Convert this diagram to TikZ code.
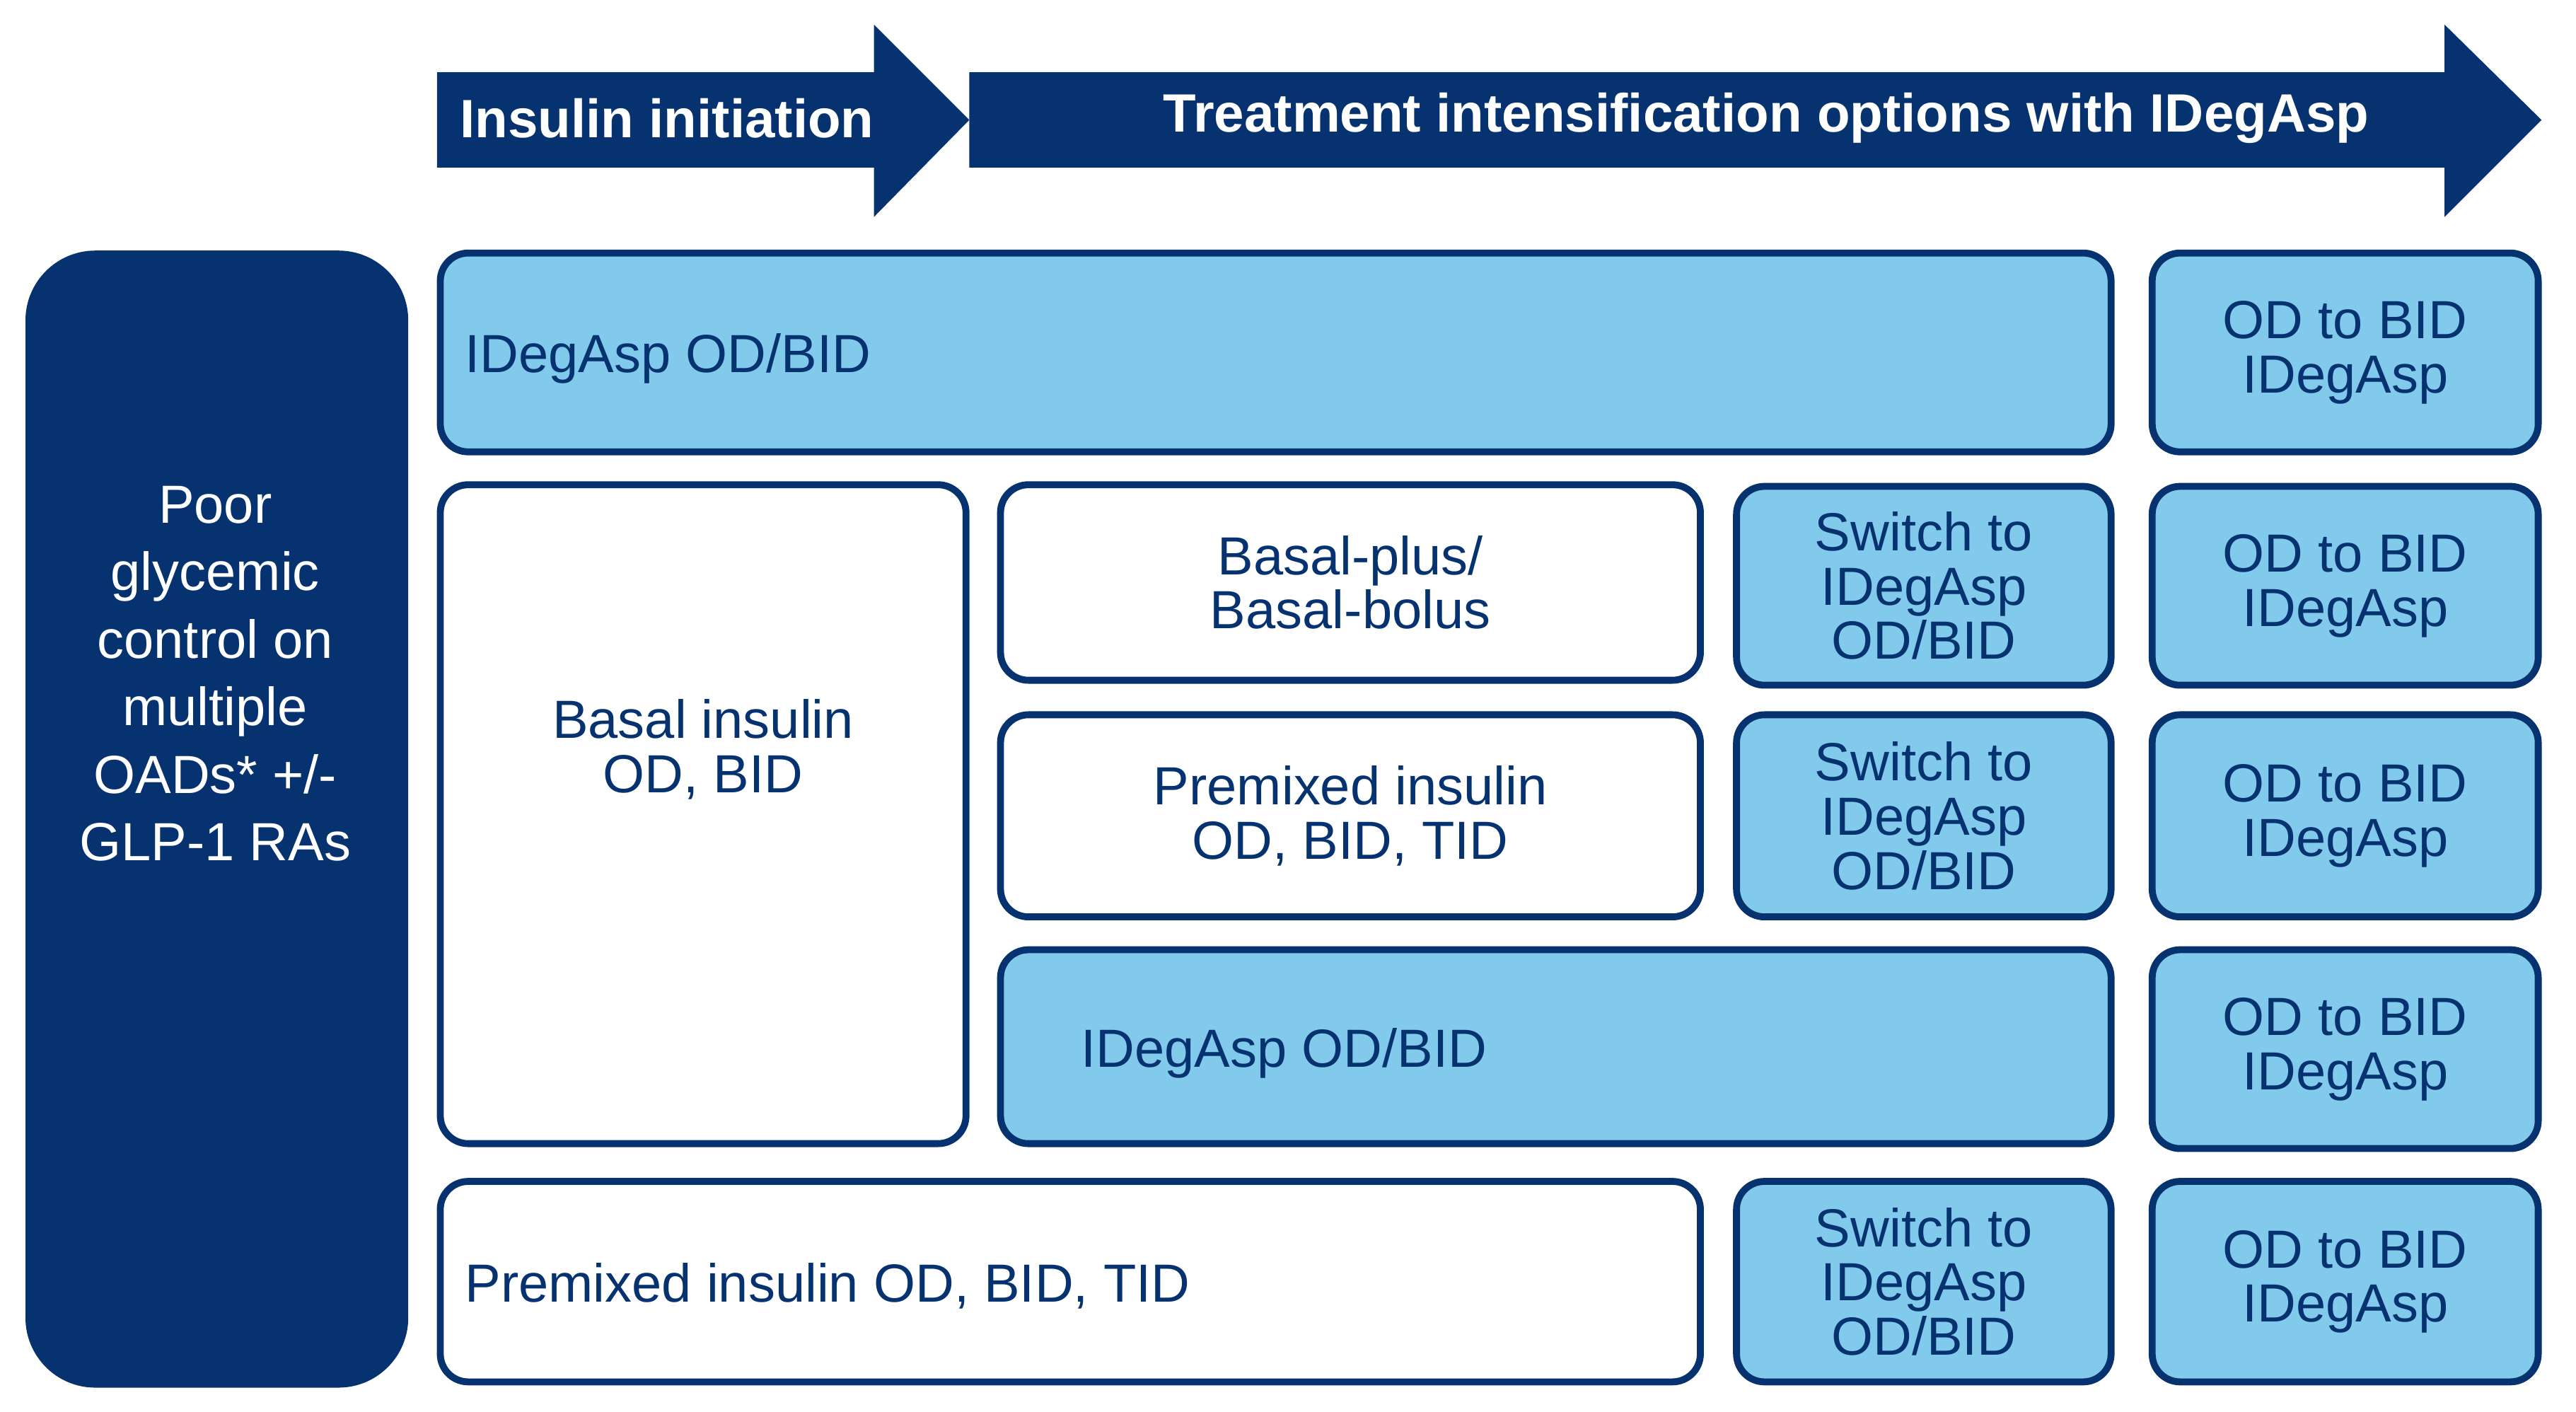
\documentclass[tikz,border=0pt]{standalone}
\usepackage{fontspec}
\setmainfont{Liberation Sans}
\usetikzlibrary{positioning}
\definecolor{navy}{RGB}{6,51,112}
\definecolor{skyblue}{RGB}{130,202,235}

\begin{document}
\begin{tikzpicture}[
    x=0.02cm, y=-0.02cm,
    wh/.style 2 args={minimum width=#1*0.02cm, minimum height=#2*0.02cm},
    cellbox/.style={rectangle, draw=navy, line width=2.4pt, rounded corners=0.34cm, inner sep=0pt, text=navy, align=center, font=\fontsize{18.6}{18.8}\selectfont},
    whitebox/.style={cellbox, fill=white},
    bluebox/.style={cellbox, fill=skyblue},
    lefttext/.style={align=flush left, text height=18pt, text depth=4pt},
    plaintext/.style={inner sep=0pt, text=navy, align=center, font=\fontsize{18.6}{18.8}\selectfont},
    startbox/.style={rectangle, fill=navy, rounded corners=0.85cm},
    starttext/.style={inner sep=0pt, text=white, align=center, font=\fontsize{18.6}{23.4}\selectfont},
    headtext/.style={inner sep=0pt, text=white, font=\fontsize{18.7}{20}\selectfont\bfseries}
]
    \useasboundingbox (0,0) rectangle (1568,859);

    % phase arrows
    \fill[navy] (266,44) -- (532,44) -- (532,15) -- (590,73) -- (532,132) -- (532,102) -- (266,102) -- cycle;
    \fill[navy] (590,44) -- (1488,44) -- (1488,15) -- (1547,73) -- (1488,132) -- (1488,102) -- (590,102) -- cycle;
    \node[headtext] (init) at (406,72) {Insulin initiation};
    \node[headtext] (intens) at (1075,72) {Treatment intensification options with IDegAsp};

    % starting point
    \node[startbox, wh={233}{692}] (start) at (132,498.5) {};
    \node[starttext] (starttxt) at (131,410) {Poor\\glycemic\\control on\\multiple\\OADs* +/-\\GLP-1 RAs};

    % row 1
    \node[bluebox, wh={1017}{121}, text width=19.74cm, lefttext] (ideg1) at (776.5,214.5) {IDegAsp OD/BID};
    \node[bluebox, wh={235}{121}] (od1) at (1427.5,214.5) {OD to BID\\IDegAsp};

    % basal insulin block
    \node[whitebox, wh={320}{401}] (basal) at (428,495.5) {};
    \node[plaintext] (basaltxt) at (428,456) {Basal insulin\\OD, BID};

    \node[whitebox, wh={426}{119}] (plus) at (822,354.5) {Basal-plus/\\Basal-bolus};
    \node[bluebox, wh={228}{121}] (sw1) at (1171,356.5) {Switch to\\IDegAsp\\OD/BID};
    \node[bluebox, wh={235}{121}] (od2) at (1427.5,356.5) {OD to BID\\IDegAsp};

    \node[whitebox, wh={426}{123}] (premix) at (822,496.5) {Premixed insulin\\OD, BID, TID};
    \node[bluebox, wh={228}{123}] (sw2) at (1171,496.5) {Switch to\\IDegAsp\\OD/BID};
    \node[bluebox, wh={235}{123}] (od3) at (1427.5,496.5) {OD to BID\\IDegAsp};

    \node[bluebox, wh={676}{118}, text width=11.56cm, lefttext] (ideg2) at (947,637) {IDegAsp OD/BID};
    \node[bluebox, wh={235}{121}] (od4) at (1427.5,638.5) {OD to BID\\IDegAsp};

    % premixed start
    \node[whitebox, wh={767}{122}, text width=14.74cm, lefttext] (premix2) at (651.5,780) {Premixed insulin OD, BID, TID};
    \node[bluebox, wh={228}{122}] (sw3) at (1171,780) {Switch to\\IDegAsp\\OD/BID};
    \node[bluebox, wh={235}{122}] (od5) at (1427.5,780) {OD to BID\\IDegAsp};
\end{tikzpicture}
\end{document}
